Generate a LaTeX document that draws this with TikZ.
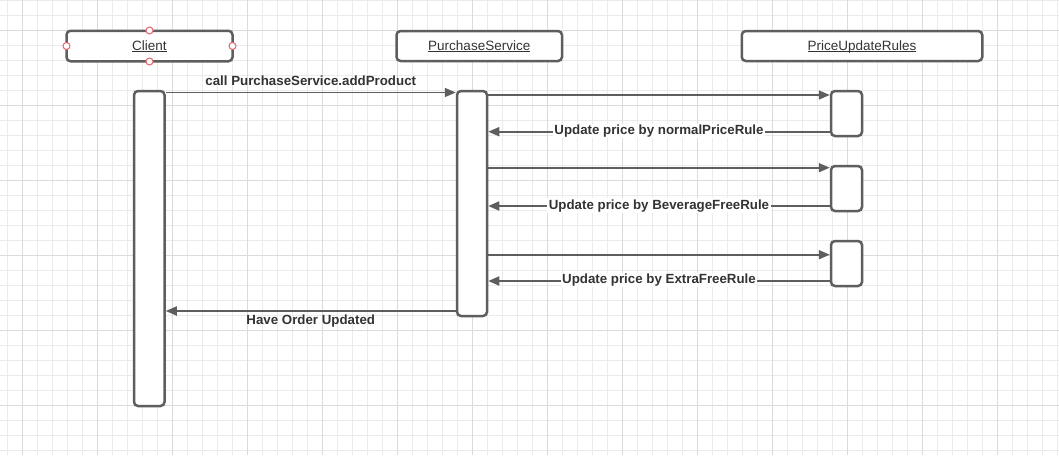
\documentclass[tikz,border=0pt]{standalone}
\usepackage{fontspec}
\setmainfont{Liberation Sans}
\usetikzlibrary{arrows.meta}
\definecolor{gridminor}{HTML}{EBEBEB}
\definecolor{gridmajor}{HTML}{DBDBDB}
\definecolor{linec}{HTML}{5E5E5E}
\definecolor{textc}{HTML}{333333}
\definecolor{handlec}{HTML}{E36570}
\newcommand\myul[1]{\underline{\smash{#1}}}
\begin{document}
\begin{tikzpicture}[x=1pt,y=-1pt,
  head/.style={draw=linec, line width=2.5pt, rounded corners=4pt, fill=white, text=textc, font=\fontsize{13.5}{16}\selectfont, inner sep=0pt, text height=8.5pt, text depth=0pt},
  lifebar/.style={draw=linec, line width=2.5pt, rounded corners=4pt, fill=white, inner sep=0pt},
  msg/.style={draw=linec, line width=1.7pt, -{Triangle[length=11pt,width=9pt]}},
  lbl/.style={text=textc, font=\bfseries\fontsize{13.3}{16}\selectfont, inner xsep=1.5pt, inner ysep=1pt, anchor=base},
  handle/.style={circle, draw=handlec, fill=white, line width=1pt, minimum size=7pt, inner sep=0pt}]
\useasboundingbox (0,0) rectangle (1059,455);
\fill[white] (0,0) rectangle (1059,455);
% grid
\foreach \x in {7.5,22.5,...,1059} \draw[gridminor, line width=1pt] (\x,0) -- (\x,455);
\foreach \y in {0,15,...,455} \draw[gridminor, line width=1pt] (0,\y) -- (1059,\y);
\foreach \x in {22.5,97.5,...,1059} \draw[gridmajor, line width=1pt] (\x,0) -- (\x,455);
\foreach \y in {30,105,...,455} \draw[gridmajor, line width=1pt] (0,\y) -- (1059,\y);
% headers
\node[head, minimum width=166pt, minimum height=30.5pt] (client) at (149.5,46) {\myul{Client}};
\node[head, minimum width=165.5pt, minimum height=30pt] (purch) at (479.25,46) {\myul{PurchaseService}};
\node[head, minimum width=240.5pt, minimum height=30pt] (rules) at (862,46) {\myul{PriceUpdateRules}};
% selection handles on Client
\node[handle] (hw) at (66.5,46) {};
\node[handle] (he) at (232.5,46) {};
\node[handle] (hn) at (149.5,30.5) {};
\node[handle] (hs) at (149.5,61.5) {};
% activation bars
\node[lifebar, minimum width=30.5pt, minimum height=315pt] (cbar) at (149.25,248.5) {};
\node[lifebar, minimum width=30pt, minimum height=225pt] (pbar) at (472,203.5) {};
\node[lifebar, minimum width=31pt, minimum height=45pt] (r1) at (846.5,113.5) {};
\node[lifebar, minimum width=31pt, minimum height=45pt] (r2) at (846.5,188.5) {};
\node[lifebar, minimum width=31pt, minimum height=45pt] (r3) at (846.5,263.5) {};
% message levels
\coordinate (m0) at (0,92.5);
\coordinate (m1) at (0,95);
\coordinate (m2) at (0,131.7);
\coordinate (m3) at (0,167.7);
\coordinate (m4) at (0,206);
\coordinate (m5) at (0,254.7);
\coordinate (m6) at (0,281);
\coordinate (m7) at (0,311);
% messages
\draw[msg] (cbar.east |- m0) -- (pbar.west |- m0) node[lbl, midway, yshift=7.3pt] {call PurchaseService.addProduct};
\draw[msg] (pbar.east |- m1) -- (r1.west |- m1);
\draw[msg] (r1.west |- m2) -- (pbar.east |- m2) node[lbl, midway, fill=white, yshift=-2.6pt] {Update price by normalPriceRule};
\draw[msg] (pbar.east |- m3) -- (r2.west |- m3);
\draw[msg] (r2.west |- m4) -- (pbar.east |- m4) node[lbl, midway, fill=white, yshift=-3pt] {Update price by BeverageFreeRule};
\draw[msg] (pbar.east |- m5) -- (r3.west |- m5);
\draw[msg] (r3.west |- m6) -- (pbar.east |- m6) node[lbl, midway, fill=white, yshift=-2.7pt] {Update price by ExtraFreeRule};
\draw[msg] (pbar.west |- m7) -- (cbar.east |- m7) node[lbl, midway, yshift=-13.3pt] {Have Order Updated};
\end{tikzpicture}
\end{document}
